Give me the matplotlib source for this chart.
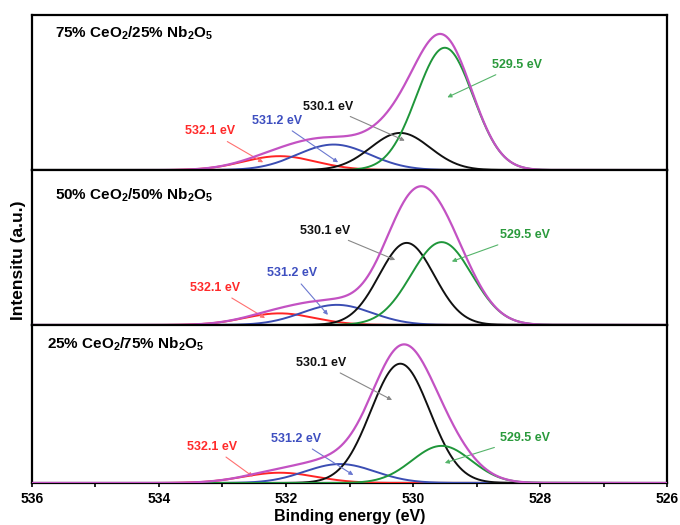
import numpy as np
import matplotlib.pyplot as plt

# ---- data: O 1s peak fits ----
panel_titles = ["75% CeO$_\\mathregular{2}$/25% Nb$_\\mathregular{2}$O$_\\mathregular{5}$",
                "50% CeO$_\\mathregular{2}$/50% Nb$_\\mathregular{2}$O$_\\mathregular{5}$",
                "25% CeO$_\\mathregular{2}$/75% Nb$_\\mathregular{2}$O$_\\mathregular{5}$"]
peak_labels = ["532.1 eV", "531.2 eV", "530.1 eV", "529.5 eV"]

# centres (eV), heights (a.u.) and FWHM (eV) per panel, order: red, blue, black, green
centres_75 = [532.1, 531.25, 530.2, 529.5]
heights_75 = [0.09, 0.165, 0.24, 0.79]
fwhm_75 = [1.35, 1.35, 1.1, 1.05]

centres_50 = [532.1, 531.2, 530.1, 529.55]
heights_50 = [0.075, 0.13, 0.53, 0.535]
fwhm_50 = [1.3, 1.3, 1.02, 1.13]

centres_25 = [532.1, 531.15, 530.2, 529.55]
heights_25 = [0.065, 0.12, 0.755, 0.235]
fwhm_25 = [1.35, 1.3, 1.09, 1.1]

energy = np.linspace(526, 536, 1001)

peak_colors = ['#ff2424', '#3b4db3', '#111111', '#1f963a']
label_colors = ['#ff2a2a', '#3e4fc0', '#111111', '#2a9a3c']
arrow_colors = ['#ff7070', '#6b78d0', '#888888', '#55b46a']
envelope_color = '#c352c3'

# text position and arrow head per panel (energy, intensity)
text_pos = [
    [(533.2, 0.25), (532.14, 0.32), (531.34, 0.41), (528.36, 0.68)],
    [(533.12, 0.24), (531.91, 0.335), (531.39, 0.61), (528.24, 0.58)],
    [(533.17, 0.23), (531.84, 0.28), (531.45, 0.76), (528.24, 0.285)],
]
head_pos = [
    [(532.36, 0.05), (531.18, 0.05), (530.13, 0.19), (529.46, 0.47)],
    [(532.33, 0.045), (531.34, 0.065), (530.28, 0.42), (529.39, 0.41)],
    [(532.52, 0.04), (530.94, 0.05), (530.33, 0.525), (529.5, 0.127)],
]
title_pos = [(535.64, 0.885), (535.64, 0.84), (535.76, 0.88)]

plt.rcParams['font.family'] = ['Liberation Sans', 'DejaVu Sans']
plt.rcParams['font.weight'] = 'bold'


def gauss(x, c, h, w):
    s = w / 2.3548
    return h * np.exp(-(x - c) ** 2 / (2 * s ** 2))


fig = plt.figure(figsize=(6.8, 5.25), dpi=100)
bounds = [(0.676, 0.295), (0.381, 0.295), (0.080, 0.301)]
params = [(centres_75, heights_75, fwhm_75),
          (centres_50, heights_50, fwhm_50),
          (centres_25, heights_25, fwhm_25)]

axes = []
for i, (bot, hgt) in enumerate(bounds):
    ax = fig.add_axes([0.047, bot, 0.934, hgt])
    axes.append(ax)
    cs, hs, ws = params[i]
    total = np.zeros_like(energy)
    for c, h, w, col in zip(cs, hs, ws, peak_colors):
        y = gauss(energy, c, h, w)
        total += y
        ax.plot(energy, y, color=col, lw=1.4, zorder=3)
    ax.plot(energy, total, color=envelope_color, lw=1.6, zorder=4)

    for j in range(4):
        ax.annotate(peak_labels[j], xy=head_pos[i][j], xytext=text_pos[i][j],
                    ha='center', va='center', fontsize=9, fontweight='bold',
                    color=label_colors[j],
                    arrowprops=dict(arrowstyle='-|>', color=arrow_colors[j],
                                    lw=0.8, mutation_scale=6,
                                    shrinkA=2, shrinkB=0))
    ax.text(title_pos[i][0], title_pos[i][1], panel_titles[i], ha='left',
            va='center', fontsize=11, fontweight='bold')

    ax.set_xlim(536, 526)
    ax.set_ylim(0, 1)
    ax.set_yticks([])
    ax.set_xticks(np.arange(526, 537, 2))
    ax.set_xticks(np.arange(527, 536, 2), minor=True)
    ax.tick_params(axis='x', which='both', direction='out', length=3,
                   width=1.2, labelsize=10)
    for sp in ax.spines.values():
        sp.set_linewidth(1.6)
    if i < 2:
        ax.tick_params(axis='x', labelbottom=False)

axes[2].set_xlabel("Binding energy (eV)", fontsize=11.5, fontweight='bold',
                   labelpad=2)
fig.text(0.027, 0.505, "Intensitu (a.u.)", rotation=90, ha='center',
         va='center', fontsize=12.5, fontweight='bold')

fig.savefig('out.png', dpi=100)
